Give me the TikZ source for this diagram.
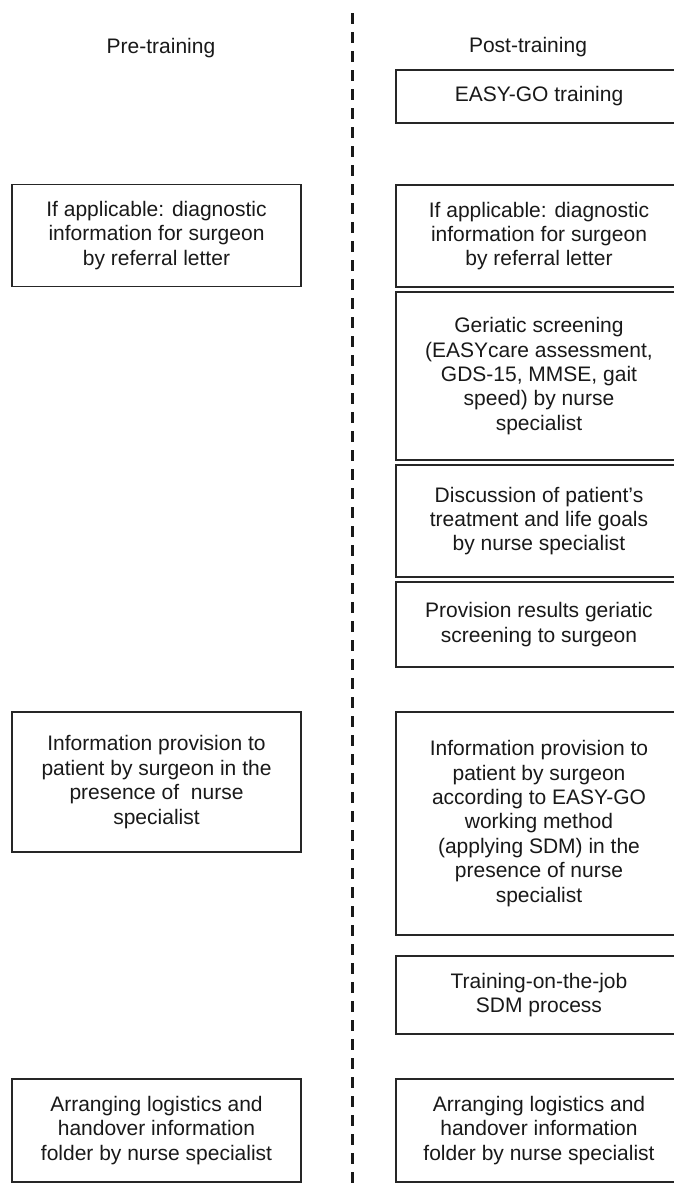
\documentclass[tikz,border=0pt]{standalone}
\usepackage{fontspec}
\setmainfont{Liberation Sans}
\begin{document}
\begin{tikzpicture}[x=1pt,y=-1pt,
  box/.style={draw=black!85, line width=1.8pt, align=center, inner sep=0pt,
    font=\fontsize{21}{24.4}\selectfont, text=black!90},
  hdr/.style={anchor=base, font=\fontsize{21}{24.4}\selectfont, text=black!90},
  divider/.style={draw=black!90, line width=3pt, dash pattern=on 11pt off 8pt}]
\useasboundingbox (0,0) rectangle (673,1186);
\fill[white] (0,0) rectangle (673,1186);

% headers
\node[hdr] (pre) at (161,53) {Pre-training};
\node[hdr] (post) at (528,52) {Post-training};

% divider
\coordinate (dtop) at (352,13);
\coordinate (dbot) at (352,1190);
\draw[divider] (dtop) -- (dbot);

% left column
\node[box, minimum width=289pt, minimum height=102pt] (l1) at (156.5,235.5)
  {If applicable: diagnostic\\information for surgeon\\by referral letter};
\node[box, minimum width=289pt, minimum height=140pt] (l2) at (156.5,782)
  {Information provision to\\patient by surgeon in the\\presence of~ nurse\\specialist};
\node[box, minimum width=289pt, minimum height=103pt] (l3) at (156.5,1130.5)
  {Arranging logistics and\\handover information\\folder by nurse specialist};

% right column
\node[box, minimum width=286pt, minimum height=53pt] (r0) at (539,96.5)
  {EASY-GO training};
\node[box, minimum width=286pt, minimum height=102pt] (r1) at (539,236)
  {If applicable: diagnostic\\information for surgeon\\by referral letter};
\node[box, minimum width=286pt, minimum height=168pt] (r2) at (539,376)
  {Geriatic screening\\(EASYcare assessment,\\GDS-15, MMSE, gait\\speed) by nurse\\specialist};
\node[box, minimum width=286pt, minimum height=112pt] (r3) at (539,521)
  {Discussion of patient’s\\treatment and life goals\\by nurse specialist};
\node[box, minimum width=286pt, minimum height=85pt] (r4) at (539,624.5)
  {Provision results geriatic\\screening to surgeon};
\node[box, minimum width=286pt, minimum height=223pt] (r5) at (539,823.5)
  {Information provision to\\patient by surgeon\\according to EASY-GO\\working method\\(applying SDM) in the\\presence of nurse\\specialist};
\node[box, minimum width=286pt, minimum height=78pt] (r6) at (539,995)
  {Training-on-the-job\\SDM process};
\node[box, minimum width=286pt, minimum height=103pt] (r7) at (539,1130.5)
  {Arranging logistics and\\handover information\\folder by nurse specialist};
\end{tikzpicture}
\end{document}
